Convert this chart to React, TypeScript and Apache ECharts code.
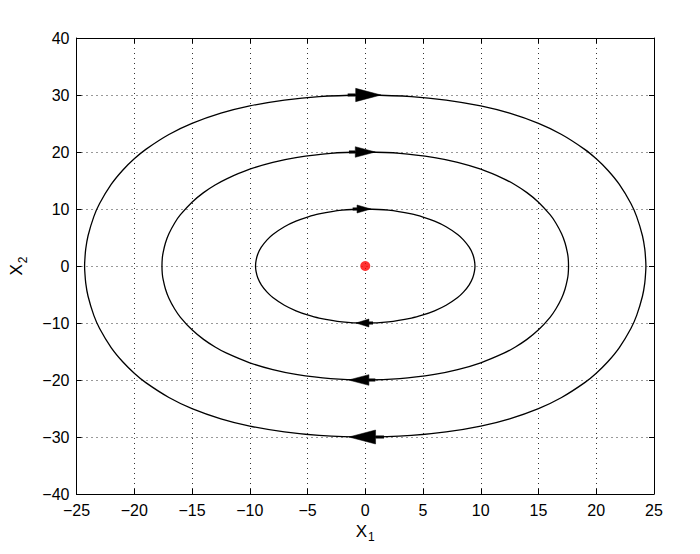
import React, { useEffect, useRef } from "react";
import * as echarts from "echarts";

// Orbit points (clockwise from the top)
const innerOrbit: number[][] = [
  [0, 10], [2, 9.79], [4, 9.13], [5, 8.58], [6, 7.86], [7, 6.89], [8, 5.53], [8.5, 4.59], [9, 3.3], [9.3, 2.12], [9.45, 1.0], [9.5, 0],
  [9.45, -1.0], [9.3, -2.12], [9, -3.3], [8.5, -4.59], [8, -5.53], [7, -6.89], [6, -7.86], [5, -8.58], [4, -9.13], [2, -9.79], [0, -10],
  [-2, -9.79], [-4, -9.13], [-5, -8.58], [-6, -7.86], [-7, -6.89], [-8, -5.53], [-8.5, -4.59], [-9, -3.3], [-9.3, -2.12], [-9.45, -1.0], [-9.5, 0],
  [-9.45, 1.0], [-9.3, 2.12], [-9, 3.3], [-8.5, 4.59], [-8, 5.53], [-7, 6.89], [-6, 7.86], [-5, 8.58], [-4, 9.13], [-2, 9.79], [0, 10],
];

const middleOrbit: number[][] = [
  [0, 20], [3, 19.77], [6, 19.02], [8, 18.18], [10, 16.98], [12, 15.3], [13, 14.2], [14, 12.87], [15, 11.2], [16, 9.0], [16.5, 7.55], [17, 5.65], [17.3, 4.03], [17.5, 2.35], [17.57, 1.4], [17.6, 0],
  [17.57, -1.4], [17.5, -2.35], [17.3, -4.03], [17, -5.65], [16.5, -7.55], [16, -9.0], [15, -11.2], [14, -12.87], [13, -14.2], [12, -15.3], [10, -16.98], [8, -18.18], [6, -19.02], [3, -19.77], [0, -20],
  [-3, -19.77], [-6, -19.02], [-8, -18.18], [-10, -16.98], [-12, -15.3], [-13, -14.2], [-14, -12.87], [-15, -11.2], [-16, -9.0], [-16.5, -7.55], [-17, -5.65], [-17.3, -4.03], [-17.5, -2.35], [-17.57, -1.4], [-17.6, 0],
  [-17.57, 1.4], [-17.5, 2.35], [-17.3, 4.03], [-17, 5.65], [-16.5, 7.55], [-16, 9.0], [-15, 11.2], [-14, 12.87], [-13, 14.2], [-12, 15.3], [-10, 16.98], [-8, 18.18], [-6, 19.02], [-3, 19.77], [0, 20],
];

const outerOrbit: number[][] = [
  [0, 30], [4, 29.72], [7, 29.11], [10, 28.08], [12.5, 26.8], [15, 25.01], [17, 23.06], [19, 20.46], [20, 18.8], [21, 16.8], [22, 14.31], [23, 10.96], [23.5, 8.66], [24, 5.31], [24.2, 2.99], [24.28, 1.0], [24.3, 0],
  [24.28, -1.0], [24.2, -2.99], [24, -5.31], [23.5, -8.66], [23, -10.96], [22, -14.31], [21, -16.8], [20, -18.8], [19, -20.46], [17, -23.06], [15, -25.01], [12.5, -26.8], [10, -28.08], [7, -29.11], [4, -29.72], [0, -30],
  [-4, -29.72], [-7, -29.11], [-10, -28.08], [-12.5, -26.8], [-15, -25.01], [-17, -23.06], [-19, -20.46], [-20, -18.8], [-21, -16.8], [-22, -14.31], [-23, -10.96], [-23.5, -8.66], [-24, -5.31], [-24.2, -2.99], [-24.28, -1.0], [-24.3, 0],
  [-24.28, 1.0], [-24.2, 2.99], [-24, 5.31], [-23.5, 8.66], [-23, 10.96], [-22, 14.31], [-21, 16.8], [-20, 18.8], [-19, 20.46], [-17, 23.06], [-15, 25.01], [-12.5, 26.8], [-10, 28.08], [-7, 29.11], [-4, 29.72], [0, 30],
];

// Direction arrows: tail x, tip x, y
const arrowTailX = [-1.52, -1.41, -1.09, 0.67, 0.87, 1.62];
const arrowTipX = [1.36, 0.87, 0.49, -0.8, -1.44, -1.41];
const arrowY = [30, 20, 10, -10, -20, -30];

const equilibrium: number[][] = [[0, 0]];

const xTicks = { min: -25, max: 25, interval: 5 };
const yTicks = { min: -40, max: 40, interval: 10 };

const FONT = "'Liberation Sans', Arial, Helvetica, sans-serif";

export default function App() {
  const ref = useRef<HTMLDivElement>(null);
  useEffect(() => {
    if (!ref.current) return;
    const chart = echarts.init(ref.current, undefined, { renderer: "svg" });
    const fmt = (v: number) => (v < 0 ? "\u2212" + Math.abs(v) : String(v));
    const gridLine = { show: true, lineStyle: { color: "#333", width: 1, type: [1, 4] as any } };
    const axisLine = { show: true, onZero: false, lineStyle: { color: "#000", width: 1 } };
    const tick = { show: true, inside: true, length: 5, lineStyle: { color: "#000" } };
    const arrowData = arrowY.map((y, i) => [arrowTailX[i], arrowTipX[i], y]);
    chart.setOption({
      animation: false,
      backgroundColor: "#fff",
      textStyle: { fontFamily: FONT },
      grid: { left: 75, right: 46, top: 38, bottom: 60, containLabel: false },
      xAxis: [
        {
          type: "value", position: "bottom", ...xTicks,
          axisLine, axisTick: tick, splitLine: gridLine,
          axisLabel: { color: "#000", fontSize: 16, margin: 8, formatter: fmt, fontFamily: FONT },
          name: "{a|X}{b|1}", nameLocation: "middle", nameGap: 22,
          nameTextStyle: {
            color: "#000", fontFamily: FONT,
            rich: { a: { fontSize: 17, color: "#000", fontFamily: FONT }, b: { fontSize: 12, color: "#000", padding: [12, 0, 0, 1], fontFamily: FONT } },
          },
        },
        {
          type: "value", position: "top", ...xTicks,
          axisLine, axisTick: tick, splitLine: { show: false }, axisLabel: { show: false },
        },
      ],
      yAxis: [
        {
          type: "value", position: "left", ...yTicks,
          axisLine, axisTick: tick, splitLine: gridLine,
          axisLabel: { color: "#000", fontSize: 16, margin: 7, formatter: fmt, fontFamily: FONT },
          name: "{a|X}{b|2}", nameLocation: "middle", nameGap: 48,
          nameTextStyle: {
            color: "#000", fontFamily: FONT,
            rich: { a: { fontSize: 17, color: "#000", fontFamily: FONT }, b: { fontSize: 12, color: "#000", padding: [12, 0, 0, 1], fontFamily: FONT } },
          },
        },
        {
          type: "value", position: "right", ...yTicks,
          axisLine, axisTick: tick, splitLine: { show: false }, axisLabel: { show: false },
        },
      ],
      series: [
        ...[outerOrbit, middleOrbit, innerOrbit].map((d) => ({
          type: "line",
          data: d,
          showSymbol: false,
          smooth: 0.35,
          lineStyle: { color: "#000", width: 1.3 },
          silent: true,
        })),
        {
          type: "custom",
          data: arrowData,
          silent: true,
          renderItem: (params: any, api: any) => {
            const t = api.coord([api.value(0), api.value(2)]);
            const p = api.coord([api.value(1), api.value(2)]);
            const L = p[0] - t[0];
            const dir = L >= 0 ? 1 : -1;
            const len = Math.abs(L);
            const headLen = 0.76 * len;
            const hw = Math.max(4, 0.2 * len);
            const base = p[0] - dir * headLen;
            return {
              type: "group",
              children: [
                { type: "line", shape: { x1: t[0], y1: t[1], x2: base, y2: p[1] }, style: { stroke: "#000", lineWidth: 3 } },
                {
                  type: "polygon",
                  shape: { points: [[p[0], p[1]], [base, p[1] - hw], [base, p[1] + hw]] },
                  style: { fill: "#000", stroke: "#000", lineWidth: 0.5 },
                },
              ],
            };
          },
        },
        {
          type: "scatter",
          data: equilibrium,
          symbol: "circle",
          symbolSize: 10,
          itemStyle: { color: "#ff0000" },
          silent: true,
          z: 5,
        },
      ],
    });
    return () => chart.dispose();
  }, []);
  return <div ref={ref} style={{ position: "fixed", left: 0, top: 0, width: 700, height: 554, background: "#fff" }} />;
}
